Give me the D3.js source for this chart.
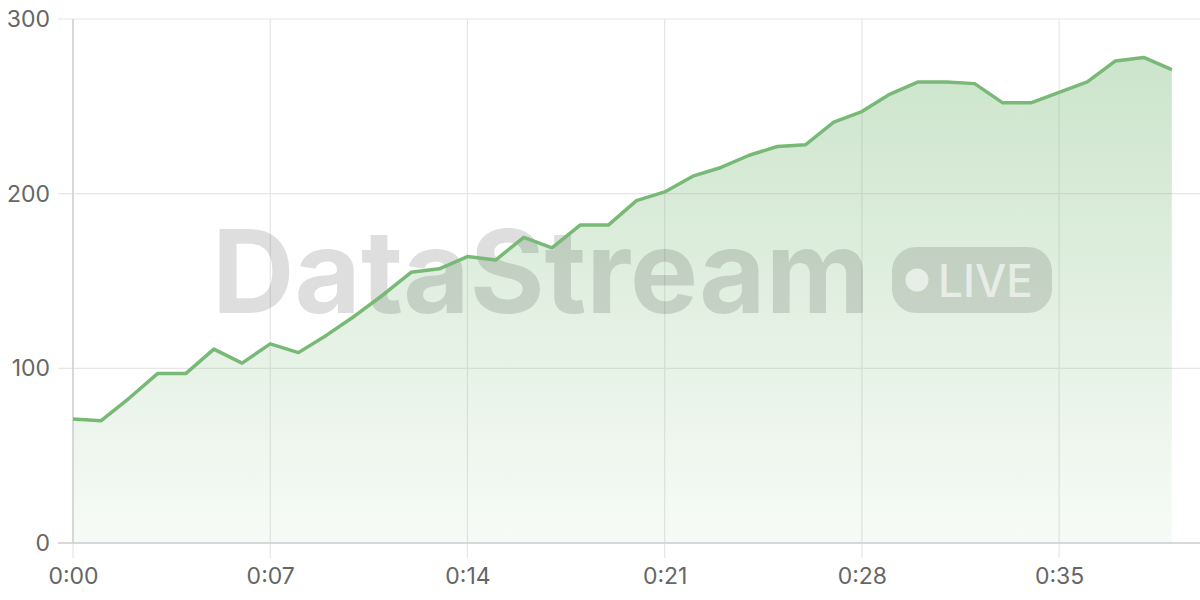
<!DOCTYPE html>
<html>
<head>
<meta charset="utf-8">
<script src="https://cdn.jsdelivr.net/npm/d3@7"></script>
<style>
  html, body { margin: 0; padding: 0; background: #ffffff; }
  svg { display: block; }
</style>
</head>
<body>
<svg id="chart" width="1200" height="600"></svg>
<script>
// ---- data ----
const seconds = d3.range(0, 40);
const values = [71, 70, 83, 97, 97, 111, 103, 114, 109, 119,
                130, 142, 155, 157, 164, 162, 175, 169, 182, 182,
                196, 201, 210, 215, 222, 227, 228, 241, 247, 257,
                264, 264, 263, 252, 252, 258, 264, 276, 278, 271];
const xTickValues = [0, 7, 14, 21, 28, 35];
const yTickValues = [0, 100, 200, 300];
const watermarkText = "DataStream";
const badgeText = "LIVE";

const data = seconds.map((s, i) => ({ t: s, v: values[i] }));

const svg = d3.select("#chart");
const W = 1200, H = 600;
const m = { left: 73, right: 0, top: 19, bottom: 57 };

const x = d3.scaleLinear().domain([0, 40]).range([m.left, W - m.right]);
const y = d3.scaleLinear().domain([0, 300]).range([H - m.bottom, m.top]);

const fmt = s => "0:" + String(s).padStart(2, "0");
const lineColor = "#79b977";
const labelColor = "#666666";
const font = "Inter, 'Noto Sans', 'Liberation Sans', sans-serif";

// gradient
const defs = svg.append("defs");
const grad = defs.append("linearGradient").attr("id", "areaGrad")
  .attr("x1", 0).attr("y1", 0).attr("x2", 0).attr("y2", 1);
grad.append("stop").attr("offset", "0%").attr("stop-color", lineColor).attr("stop-opacity", 0.38);
grad.append("stop").attr("offset", "100%").attr("stop-color", lineColor).attr("stop-opacity", 0.06);

// gridlines
const grid = svg.append("g");
grid.selectAll(".vg").data(xTickValues).join("line")
  .attr("x1", d => x(d)).attr("x2", d => x(d))
  .attr("y1", y(300)).attr("y2", y(0) + 15)
  .attr("stroke", "#e6e6e6").attr("stroke-width", 1.2);
grid.selectAll(".hg").data(yTickValues).join("line")
  .attr("x1", m.left - 15).attr("x2", W)
  .attr("y1", d => y(d)).attr("y2", d => y(d))
  .attr("stroke", "#e6e6e6").attr("stroke-width", 1.2);

// area
const area = d3.area().x(d => x(d.t)).y0(y(0)).y1(d => y(d.v));
svg.append("path").datum(data).attr("d", area).attr("fill", "url(#areaGrad)");

// watermark
const wm = svg.append("g");
wm.append("text")
  .attr("x", 212).attr("y", 313)
  .attr("font-family", font).attr("font-weight", 700).attr("font-size", 115)
  .attr("textLength", 658).attr("lengthAdjust", "spacingAndGlyphs")
  .attr("fill", "rgba(0,0,0,0.13)")
  .text(watermarkText);
wm.append("rect")
  .attr("x", 892).attr("y", 247).attr("width", 160).attr("height", 66)
  .attr("rx", 24).attr("ry", 24)
  .attr("fill", "rgba(0,0,0,0.12)");
wm.append("circle")
  .attr("cx", 917).attr("cy", 280).attr("r", 11.5)
  .attr("fill", "rgba(255,255,255,0.6)");
wm.append("text")
  .attr("x", 938).attr("y", 297)
  .attr("font-family", font).attr("font-weight", 500).attr("font-size", 45)
  .attr("textLength", 95).attr("lengthAdjust", "spacingAndGlyphs")
  .attr("fill", "rgba(255,255,255,0.6)")
  .text(badgeText);

// axes lines
svg.append("line")
  .attr("x1", x(0)).attr("x2", x(0)).attr("y1", y(300)).attr("y2", y(0))
  .attr("stroke", "#d0d0d0").attr("stroke-width", 1.5);
svg.append("line")
  .attr("x1", m.left - 15).attr("x2", W).attr("y1", y(0)).attr("y2", y(0))
  .attr("stroke", "#cfcfcf").attr("stroke-width", 1.5);

// line
const line = d3.line().x(d => x(d.t)).y(d => y(d.v));
svg.append("path").datum(data).attr("d", line)
  .attr("fill", "none").attr("stroke", lineColor)
  .attr("stroke-width", 3.5).attr("stroke-linejoin", "round");

// axes via d3
const xAxis = d3.axisBottom(x).tickValues(xTickValues).tickFormat(fmt).tickSize(0).tickPadding(25);
const gx = svg.append("g").attr("transform", `translate(0,${y(0)})`).call(xAxis);
gx.select(".domain").remove();
gx.selectAll("text").attr("font-family", font).attr("font-size", 23).attr("fill", labelColor);

const yAxis = d3.axisLeft(y).tickValues(yTickValues).tickSize(0).tickPadding(23);
const gy = svg.append("g").attr("transform", `translate(${m.left},0)`).call(yAxis);
gy.select(".domain").remove();
gy.selectAll("text").attr("font-family", font).attr("font-size", 23).attr("fill", labelColor);
</script>
</body>
</html>
